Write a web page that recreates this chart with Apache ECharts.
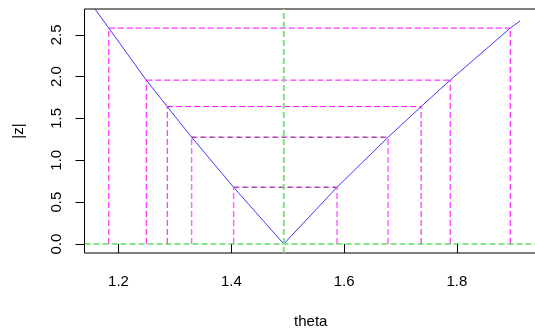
<!DOCTYPE html>
<html>
<head>
<meta charset="utf-8">
<script src="https://cdn.jsdelivr.net/npm/echarts@6/dist/echarts.min.js"></script>
<style>html,body{margin:0;padding:0;background:#fff}#c{width:535px;height:331px}</style>
</head>
<body>
<div id="c"></div>
<script>
// ---- data ----
const curveTheta = [1.158, 1.1828, 1.2492, 1.2864, 1.3296, 1.4041, 1.493, 1.5874, 1.678, 1.7366, 1.7881, 1.8946, 1.912];
const curveZ     = [2.81, 2.58, 1.958, 1.642, 1.276, 0.678, 0, 0.678, 1.276, 1.642, 1.958, 2.58, 2.665];
const levels     = [2.58, 1.958, 1.642, 1.276, 0.678];
const leftTheta  = [1.1828, 1.2492, 1.2864, 1.3296, 1.4041];
const rightTheta = [1.8946, 1.7881, 1.7366, 1.678, 1.5874];
const thetaHat   = 1.493;
const xTicks = [1.2, 1.4, 1.6, 1.8];
const yTicks = [0, 0.5, 1.0, 1.5, 2.0, 2.5];
const xRange = [1.1397, 1.942];
const yRange = [-0.108, 2.808];

// ---- styles ----
const FONT = 'Liberation Sans, Arial, sans-serif';
const DASH = [6, 3];
const grayLevels = {3: true, 4: true};

function seg(data, color, width, dash, z, offset) {
  return {
    type: 'line', data: data, symbol: 'none', silent: true, animation: false,
    z: z || 2, clip: true,
    lineStyle: { color: color, width: width || 1, type: dash || 'solid', dashOffset: offset || 0 }
  };
}

const series = [];
series.push(seg(curveTheta.map((t, i) => [t, curveZ[i]]), '#3a3aff', 1, 'solid', 2));
levels.forEach((lv, i) => {
  const light = grayLevels[i];
  series.push(seg([[leftTheta[i], lv], [rightTheta[i], lv]], '#ff00ff', 1, DASH, 3));
  if (light) {
    series.push(seg([[leftTheta[i], lv], [rightTheta[i], lv]], '#5a5a5a', 1, [4, 5], 3, 0));
  }
  series.push(seg([[leftTheta[i], 0], [leftTheta[i], lv]], light ? '#ff66ff' : '#ff00ff', light ? 1.5 : 1, DASH, 3));
  series.push(seg([[rightTheta[i], 0], [rightTheta[i], lv]], light ? '#ff66ff' : '#ff00ff', light ? 1.5 : 1, DASH, 3));
});
series.push(seg([[xRange[0], 0], [xRange[1], 0]], '#11cc11', 1, DASH, 4));
series.push(seg([[thetaHat, yRange[0]], [thetaHat, yRange[1]]], '#7fe07f', 2, DASH, 4));

const chart = echarts.init(document.getElementById('c'), null, {renderer: 'canvas'});
chart.setOption({
  animation: false,
  backgroundColor: '#fff',
  grid: { left: 84.5, top: 9, right: -2, bottom: 78, outerBoundsMode: 'none', containLabel: false,
          show: true, borderColor: '#000', borderWidth: 1, backgroundColor: 'transparent' },
  xAxis: {
    type: 'value', min: xRange[0], max: xRange[1],
    name: 'theta', nameLocation: 'middle', nameGap: 61,
    nameTextStyle: { fontFamily: FONT, fontSize: 15, color: '#000' },
    axisLine: { show: false },
    splitLine: { show: false },
    axisTick: { show: true, inside: false, length: 9, customValues: xTicks, lineStyle: { color: '#000', width: 1 } },
    axisLabel: { customValues: xTicks, margin: 21, fontFamily: FONT, fontSize: 15, color: '#000', formatter: v => v.toFixed(1) }
  },
  yAxis: {
    type: 'value', min: yRange[0], max: yRange[1],
    name: '|z|', nameLocation: 'middle', nameGap: 58, nameRotate: 90,
    nameTextStyle: { fontFamily: FONT, fontSize: 15, color: '#000' },
    axisLine: { show: false },
    splitLine: { show: false },
    axisTick: { show: true, inside: false, length: 9, customValues: yTicks, lineStyle: { color: '#000', width: 1 } },
    axisLabel: { customValues: yTicks, rotate: 90, margin: 20, fontFamily: FONT, fontSize: 15, color: '#000', formatter: v => v.toFixed(1) }
  },
  series: series
});
</script>
</body>
</html>
